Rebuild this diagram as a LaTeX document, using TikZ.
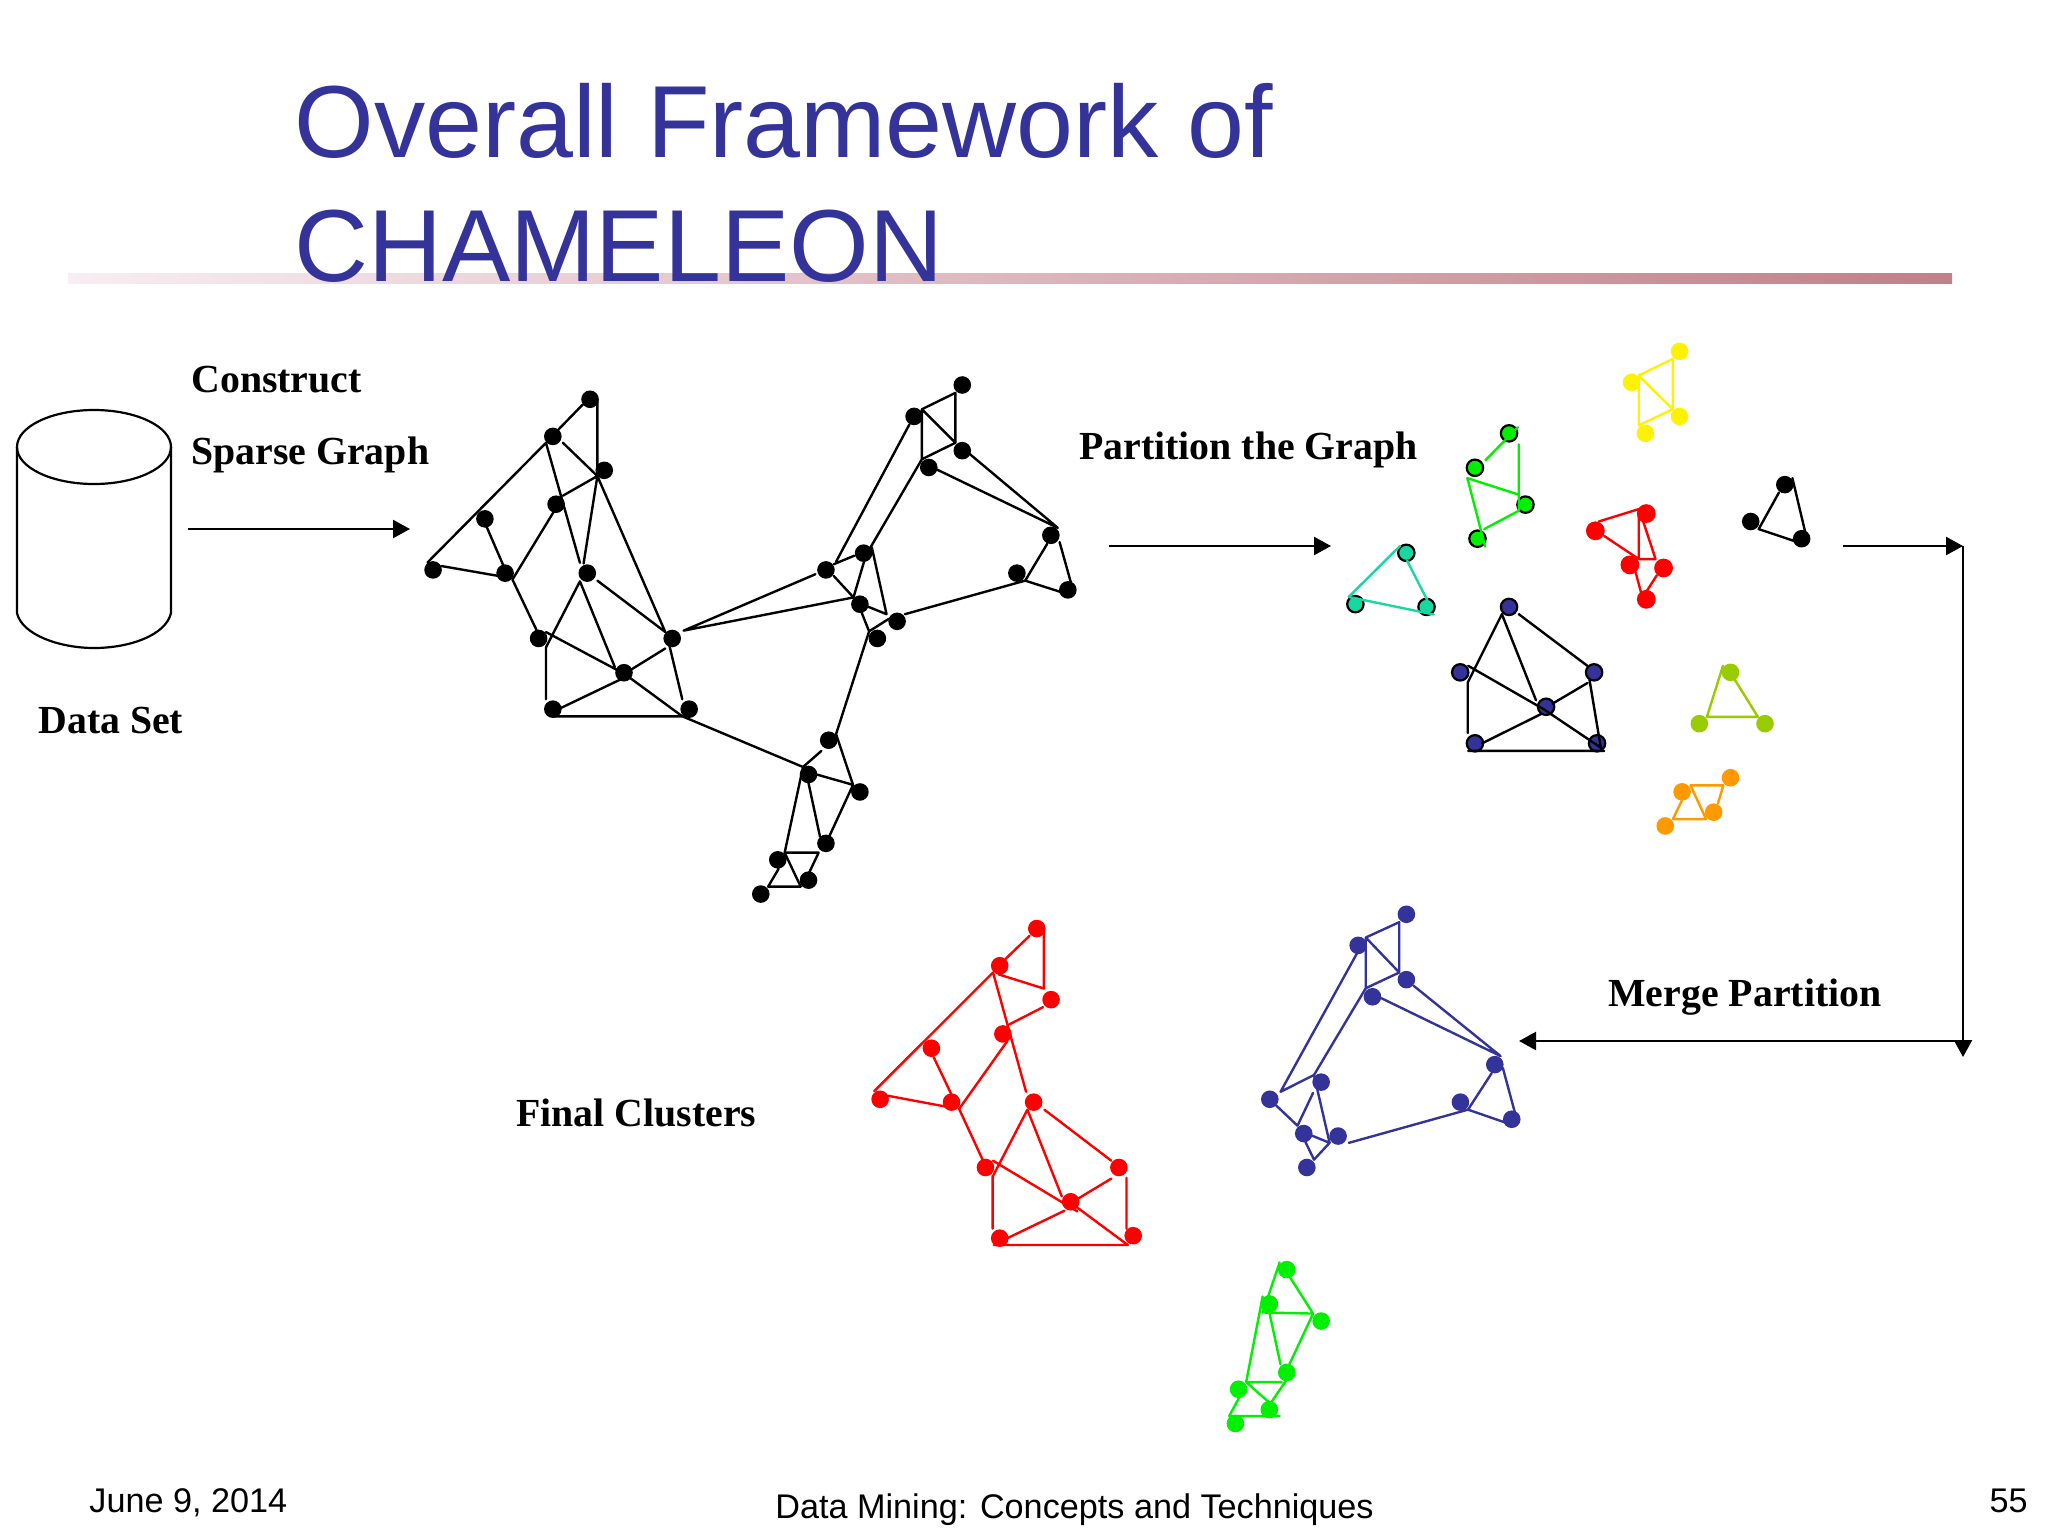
\documentclass[tikz,border=0pt]{standalone}
\usepackage{fontspec}
\setmainfont{Liberation Serif}
\newfontfamily\arialfont{Liberation Sans}
\usetikzlibrary{arrows.meta}
\definecolor{titleblue}{HTML}{333399}
\definecolor{navydot}{HTML}{333399}
\definecolor{gr}{HTML}{00F000}
\definecolor{yl}{HTML}{FFF200}
\definecolor{tl}{HTML}{1AD6A0}
\definecolor{lm}{HTML}{99CC00}
\definecolor{og}{HTML}{FF9900}
\tikzset{
  dot/.style={circle,inner sep=0pt,minimum size=8.8pt},
  ringdot/.style={circle,inner sep=0pt,minimum size=8.2pt,draw=black,line width=1.1pt},
  edge/.style={line width=1.2pt,line cap=round,line join=round},
  flow/.style={line width=1.2pt,-{Triangle[length=8.5pt,width=9pt]}},
  lab/.style={anchor=base west,inner sep=0pt,font=\fontsize{19.9}{22}\selectfont\bfseries},
  ttl/.style={anchor=base west,inner sep=0pt,text=titleblue,font=\arialfont\fontsize{51.2}{60}\selectfont},
  foot/.style={inner sep=0pt,font=\arialfont\fontsize{17.1}{20}\selectfont},
  cropA/.style={shift={(400,360)},xscale=0.459,yscale=0.357},
  cropB/.style={shift={(1320,330)},xscale=0.421,yscale=0.3444},
  cropC/.style={shift={(860,900)},xscale=0.4464,yscale=0.3571},
}
\newcommand\putpts[2]{\foreach \n/\x/\y in {#2} {\coordinate (#1\n) at (\x,\y);}}
\newcommand\putdots[3]{\foreach \n/\x/\y in {#3} {\node[#2] (#1\n) at (\x,\y) {};}}
\begin{document}
\begin{tikzpicture}[x=0.5pt,y=-0.5pt]
\useasboundingbox[fill=white] (0,0) rectangle (2048,1536);
% rule and title
\fill[left color={rgb,255:red,248;green,237;blue,242},right color={rgb,255:red,194;green,127;blue,135}] (68,273) rectangle (1952,283.5);
\node[ttl] (title1) at (294,157.5) {Overall Framework of};
\node[ttl] (title2) at (294,281.5) {CHAMELEON};
% data set cylinder
\draw[line width=1.1pt] (94,447) ellipse [x radius=77,y radius=37];
\draw[line width=1.1pt] (17,447) -- (17,613) .. controls (22,635) and (60,648) .. (94,648) .. controls (130,648) and (166,635) .. (171,613) -- (171,447);
% labels
\node[lab] (l1) at (191,392) {Construct};
\node[lab] (l2) at (191,464) {Sparse Graph};
\node[lab] (l3) at (38,733) {Data Set};
\node[lab] (l4) at (1079,459.5) {Partition the Graph};
\node[lab] (l5) at (1608,1006) {Merge Partition};
\node[lab] (l6) at (516,1126) {Final Clusters};
% flow arrows
\coordinate (f1) at (188,529); \coordinate (f2) at (410,529);
\coordinate (f3) at (1109,546); \coordinate (f4) at (1331,546);
\coordinate (f5) at (1843,546); \coordinate (f6) at (1963,546);
\coordinate (f7) at (1963,1057); \coordinate (f8) at (1963,1041); \coordinate (f9) at (1519,1041);
\draw[flow] (f1) -- (f2);
\draw[flow] (f3) -- (f4);
\draw[flow] (f5) -- (f6);
\draw[flow] (f6) -- (f7);
\draw[flow] (f8) -- (f9);
% whole graph
\begin{scope}[cropA]
\putdots{a}{dot,fill=black}{1/414/110,2/333/214,3/445/309,4/340/404,5/185/445,6/72/588,7/229/597,8/408/597,9/302/780,10/593/780,11/488/876,12/333/978,13/630/978,14/1225/70,15/1120/158,16/1225/254,17/1152/301,18/1418/491,19/1344/597,20/1455/644,21/1010/541,22/928/588,23/1002/684,24/1083/732,25/1040/780,26/934/1065,27/890/1161,28/1002/1210,29/928/1354,30/823/1400,31/890/1457,32/786/1496}
\putpts{m}{1/398/125,2/345/195,3/430/110,4/430/325,5/318/232,6/60/567,7/392/568,8/355/232,9/355/380,10/400/570,11/578/762,12/335/425,13/245/615,14/188/465,15/225/575,16/90/577,17/215/605,18/298/758,19/392/620,20/318/805,21/318/950,22/468/860,23/430/618,24/318/762,25/615/998,26/578/808,27/500/870,28/350/975,29/480/895,30/587/800,31/615/950,32/335/998,33/878/1140,34/838/1380,35/918/1095,36/950/1048,37/1022/760,38/987/1190,39/905/1160,40/935/1335,41/890/1185,42/915/1335,43/912/1380,44/890/1440,45/873/1475,46/825/1425,47/802/1475,48/1137/138,49/1210/92,50/1210/232,51/1137/278,52/1110/180,53/950/565,54/1025/525,55/1240/262,56/1433/470,57/1170/307,58/1362/618,59/1437/510,60/1462/625,61/1440/650,62/1100/712,63/1065/725,64/1005/705,65/945/605,66/988/665,67/1012/560,68/1028/525,69/1060/712,70/1018/690,71/945/572,72/990/548,73/618/758,74/905/600,75/1410/515,76/490/880}
\draw[edge] (m1)--(m2) (m3)--(m4) (m5)--(m6) (m5)--(m7) (m8)--(m4)--(m9) (m4)--(m10) (m4)--(m11) (m12)--(m13) (m14)--(m15) (m16)--(m17) (m13)--(m18) (m19)--(m20)--(m21) (m19)--(m22) (m23)--(m11) (m24)--(m76)--(m25) (m26)--(m27) (m28)--(m29) (m30)--(m31) (m32)--(m25)--(m33) (m33)--(m34) (m33)--(m35) (m36)--(m37) (m36)--(m38) (m39)--(m38)--(m40) (m41)--(m42) (m34)--(m43)--(m44) (m34)--(m45) (m46)--(m47)--(m45) (m48)--(m49)--(m50)--(m51)--(m48) (m48)--(m50) (m52)--(m53) (m51)--(m54) (m55)--(m56) (m57)--(m56) (m75)--(m58) (m59)--(m60) (m58)--(m61) (m58)--(m62) (m63)--(m37)--(m64) (m65)--(m66)--(m67) (m68)--(m69)--(m70) (m71)--(m72) (m73)--(m74) (m73)--(m66);
\end{scope}
% partitions
\begin{scope}[cropB]
\putpts{y}{1/757/132,2/838/84,3/838/230,4/757/277}
\draw[edge,yl] (y1)--(y2)--(y3)--(y4)--(y1)--(y3);
\putdots{Y}{dot,fill=yl}{1/854/62,2/740/152,3/854/251,4/773/300}
\putpts{g}{1/393/378,2/470/282,3/472/332,4/472/525,5/390/578,6/350/430,7/472/478,8/392/628}
\putdots{G}{ringdot,fill=gr}{1/449/300,2/368/400,3/488/507,4/374/606}
\draw[edge,gr] (g1)--(g2) (g3)--(g4)--(g5) (g6)--(g7) (g6)--(g8);
\putpts{t}{1/190/627,2/68/775,3/270/826,4/207/670,5/255/785}
\putdots{T}{ringdot,fill=tl}{1/205/647,2/84/796,3/253/804}
\draw[edge,tl] (t1)--(t2)--(t3) (t4)--(t5);
\putpts{r}{1/662/556,2/757/520,3/757/665,4/675/598,5/797/665,6/762/535,7/800/712,8/775/760,9/750/705,10/762/760}
\draw[edge,red] (r1)--(r2)--(r3) (r4)--(r3)--(r5) (r6)--(r5) (r7)--(r8) (r9)--(r10);
\putdots{R}{dot,minimum size=9.4pt,fill=red}{1/775/533,2/654/583,3/736/682,4/816/691,5/775/782}
\putpts{k}{1/1090/472,2/1042/578,3/1125/612,4/1122/430,5/1155/600}
\draw[edge] (k1)--(k2)--(k3) (k4)--(k5);
\putdots{K}{dot,fill=black}{1/1104/449,2/1023/556,3/1144/606}
\putpts{n}{1/432/825,2/351/1023,3/351/1170,4/513/1075,5/472/825,6/635/975,7/352/975,8/670/1215,9/530/1100,10/635/1025,11/552/1085,12/640/1015,13/668/1220,14/385/1200,15/525/1115,16/352/1222,17/675/1222}
\putdots{N}{ringdot,fill=navydot}{1/449/804,2/333/994,3/651/994,4/537/1094,5/368/1200,6/658/1200}
\draw[edge] (n1)--(n2)--(n3) (n1)--(n4) (n5)--(n6) (n7)--(n9)--(n8) (n10)--(n11) (n12)--(n13) (n14)--(n15) (n16)--(n17);
\putpts{l}{1/957/975,2/919/1123,3/1040/1123,4/985/1015}
\draw[edge,lm] (l1)--(l2)--(l3)--(l4);
\putdots{L}{dot,fill=lm}{1/975/994,2/901/1143,3/1057/1143}
\putpts{o}{1/880/1322,2/958/1322,3/945/1375,4/917/1420,5/838/1420,6/860/1365}
\draw[edge,og] (o3)--(o2)--(o1)--(o4)--(o5)--(o6);
\putdots{O}{dot,fill=og}{1/975/1300,2/860/1341,3/935/1400,4/820/1440}
\end{scope}
% final clusters
\begin{scope}[cropC]
\putpts{p}{1/380/100,2/326/165,3/412/85,4/412/248,5/310/208,6/298/203,7/32/535,8/372/537,9/410/300,10/335/348,11/330/395,12/222/585,13/165/440,14/205/545,15/62/548,16/190/578,17/275/728,18/375/587,19/297/775,20/297/920,21/452/830,22/413/587,23/563/730,24/298/730,25/487/872,26/563/780,27/490/835,28/480/855,29/600/966,30/330/947,31/458/870,32/597/778,33/597/920,34/300/966}
\draw[edge,red] (p1)--(p2) (p3)--(p4)--(p5) (p6)--(p7) (p6)--(p8) (p9)--(p10) (p11)--(p12)--(p17) (p13)--(p14) (p15)--(p16) (p18)--(p19)--(p20) (p18)--(p21) (p22)--(p23) (p24)--(p25) (p26)--(p27) (p28)--(p29)--(p34) (p30)--(p31) (p32)--(p33);
\putdots{P}{dot,fill=red}{1/396/80,2/313/184,3/428/279,4/320/375,5/160/415,6/45/558,7/205/566,8/389/566,9/281/749,10/580/749,11/472/845,12/313/947,13/612/940}
\putpts{q}{1/1133/105,2/1208/62,3/1208/203,4/1133/247,5/1113/150,6/942/537,7/1017/490,8/1052/680,9/1240/240,10/1435/437,11/1168/275,12/1362/587,13/1440/470,14/1467/595,15/1443/622,16/1095/680,17/932/575,18/980/632,19/1015/540,20/1013/660,21/1017/727,22/998/678,23/1415/485}
\draw[edge,navydot] (q1)--(q2)--(q3)--(q4)--(q1)--(q3) (q5)--(q6)--(q7) (q4)--(q7)--(q8) (q9)--(q10) (q11)--(q10) (q23)--(q12) (q13)--(q14) (q12)--(q15) (q12)--(q16) (q17)--(q18) (q19)--(q18) (q20)--(q8)--(q21)--(q22);
\putdots{Q}{dot,fill=navydot}{1/1224/40,2/1116/127,3/1224/223,4/1148/271,5/1422/461,6/1345/566,7/1460/614,8/1033/510,9/918/558,10/994/654,11/1071/661,12/1001/749}
\putpts{s}{1/940/1015,2/902/1155,3/1015/1158,4/960/1050,5/902/1110,6/865/1350,7/917/1155,8/942/1300,9/960/1305,10/945/1350,11/955/1345,12/922/1405,13/915/1405,14/850/1392,15/827/1445,16/940/1445}
\draw[edge,gr] (s1)--(s2)--(s3)--(s4) (s5)--(s6) (s7)--(s8) (s3)--(s9) (s6)--(s10) (s11)--(s12) (s6)--(s13) (s14)--(s15)--(s16);
\putdots{S}{dot,fill=gr}{1/956/1035,2/917/1131,3/1033/1179,4/956/1323,5/848/1370,6/917/1427,7/841/1466}
\end{scope}
% footer
\node[foot,anchor=base west] (d1) at (89,1512) {June 9, 2014};
\node[foot,anchor=base west] (d2) at (775,1518) {Data Mining: Concepts and Techniques};
\node[foot,anchor=base east] (d3) at (2028,1512) {55};
\end{tikzpicture}
\end{document}
